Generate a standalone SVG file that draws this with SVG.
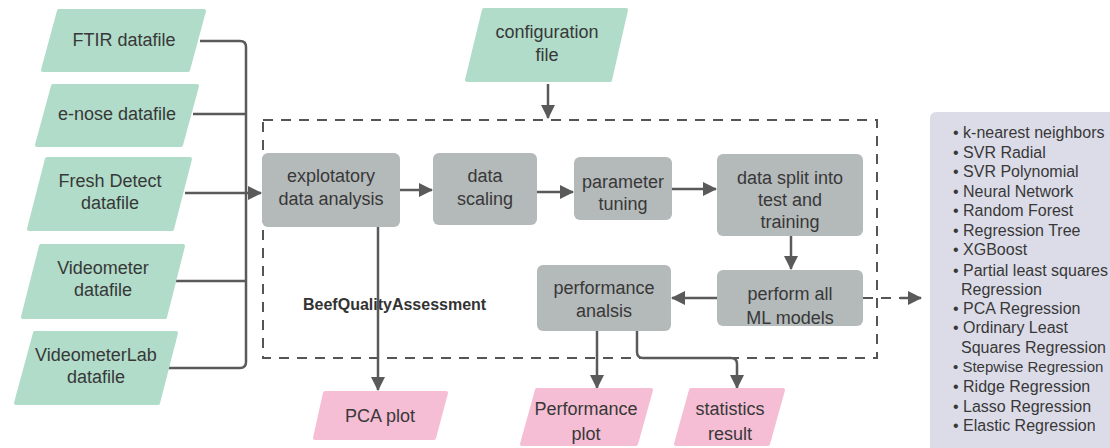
<svg xmlns="http://www.w3.org/2000/svg" width="1110" height="448" viewBox="0 0 1110 448">
<defs>
<style>
.in{fill:#b0dcc9;stroke:#b0dcc9;stroke-width:4;stroke-linejoin:round}
.out{fill:#f5bed4;stroke:#f5bed4;stroke-width:4;stroke-linejoin:round}
.proc{fill:#b4b9ba}
.t{font-family:"Liberation Sans",Arial,sans-serif;font-size:18px;fill:#383838;text-anchor:middle}
.li{font-family:"Liberation Sans",Arial,sans-serif;font-size:16px;fill:#383838}
.c{fill:none;stroke:#5a5a5a;stroke-width:2.5}
.d{fill:none;stroke:#555;stroke-width:2;stroke-dasharray:10 8}
</style>
<marker id="ah" viewBox="0 0 14 14" refX="13" refY="7" markerWidth="14" markerHeight="14" markerUnits="userSpaceOnUse" orient="auto">
<path d="M0,0 L14,7 L0,14 Z" fill="#5a5a5a"/>
</marker>
</defs>
<rect width="1110" height="448" fill="#fff"/>

<rect id="boundary" x="263" y="120" width="614" height="238" class="d"/>
<text x="303" y="310" font-family="Liberation Sans,Arial,sans-serif" font-size="16" font-weight="bold" fill="#333">BeefQualityAssessment</text>

<g id="connectors">
<path class="c" d="M200,41 H240 Q246,41 246,47 V362 Q246,368 240,368 H168"/>
<path class="c" d="M193,114 H246"/>
<path class="c" d="M175,281 H246"/>
<path class="c" d="M185,193 H261" marker-end="url(#ah)"/>
<path class="c" d="M548,84 V118" marker-end="url(#ah)"/>
<path class="c" d="M400,190 H432" marker-end="url(#ah)"/>
<path class="c" d="M537,192 H573" marker-end="url(#ah)"/>
<path class="c" d="M672,189 H716" marker-end="url(#ah)"/>
<path class="c" d="M791,236 V269" marker-end="url(#ah)"/>
<path class="c" d="M717,298 H672" marker-end="url(#ah)"/>
<path class="d" d="M863,298 H906"/>
<path class="c" d="M900,298 H921" marker-end="url(#ah)"/>
<path class="c" d="M378,227 V390" marker-end="url(#ah)"/>
<path class="c" d="M597,331 V388" marker-end="url(#ah)"/>
<path class="c" d="M637,331 V352 Q637,358 643,358 H731 Q737,358 737,364 V388" marker-end="url(#ah)"/>
</g>

<g id="ftir"><polygon class="in" points="59,11 204,11 188,70 43,70"/><text class="t" x="124" y="46">FTIR datafile</text></g>
<g id="enose"><polygon class="in" points="53,86 197,86 181,145 37,145"/><text class="t" x="117" y="120">e-nose datafile</text></g>
<g id="freshdetect"><polygon class="in" points="47,159 190,159 172,229 29,229"/><text class="t" x="110" y="187">Fresh Detect</text><text class="t" x="110" y="209">datafile</text></g>
<g id="videometer"><polygon class="in" points="41,246 183,246 165,317 23,317"/><text class="t" x="103" y="274">Videometer</text><text class="t" x="103" y="296">datafile</text></g>
<g id="videometerlab"><polygon class="in" points="35,333 176,333 158,403 16,403"/><text class="t" x="96" y="361">VideometerLab</text><text class="t" x="96" y="383">datafile</text></g>
<g id="config"><polygon class="in" points="484,10 626,10 610,80 467,80"/><text class="t" x="547" y="38">configuration</text><text class="t" x="547" y="61">file</text></g>

<g id="eda"><rect class="proc" x="262" y="153" width="138" height="74" rx="6"/><text class="t" x="331" y="182">explotatory</text><text class="t" x="331" y="205">data analysis</text></g>
<g id="scaling"><rect class="proc" x="433" y="153" width="104" height="72" rx="6"/><text class="t" x="485" y="182">data</text><text class="t" x="485" y="205">scaling</text></g>
<g id="tuning"><rect class="proc" x="574" y="157" width="98" height="63" rx="6"/><text class="t" x="623" y="188">parameter</text><text class="t" x="623" y="210">tuning</text></g>
<g id="split"><rect class="proc" x="717" y="154" width="146" height="82" rx="6"/><text class="t" x="790" y="184">data split into</text><text class="t" x="790" y="206">test and</text><text class="t" x="790" y="228">training</text></g>
<g id="models"><rect class="proc" x="717" y="270" width="146" height="56" rx="6"/><text class="t" x="790" y="300">perform all</text><text class="t" x="790" y="324">ML models</text></g>
<g id="perfanalysis"><rect class="proc" x="537" y="265" width="134" height="66" rx="6"/><text class="t" x="604" y="294">performance</text><text class="t" x="604" y="317">analsis</text></g>

<g id="pcaplot"><polygon class="out" points="325,393 446,393 434,438 315,438"/><text class="t" x="380" y="422">PCA plot</text></g>
<g id="perfplot"><polygon class="out" points="537,390 651,390 636,444 522,444"/><text class="t" x="586" y="415">Performance</text><text class="t" x="586" y="440">plot</text></g>
<g id="stats"><polygon class="out" points="691,390 783,390 768,444 676,444"/><text class="t" x="730" y="415">statistics</text><text class="t" x="730" y="440">result</text></g>

<g id="modellist">
<rect x="930" y="112" width="200" height="345" rx="6" fill="#dcdce8"/>
<text class="li" x="953" y="138">• k-nearest neighbors</text>
<text class="li" x="953" y="158">• SVR Radial</text>
<text class="li" x="953" y="177">• SVR Polynomial</text>
<text class="li" x="953" y="197">• Neural Network</text>
<text class="li" x="953" y="216">• Random Forest</text>
<text class="li" x="953" y="236">• Regression Tree</text>
<text class="li" x="953" y="255">• XGBoost</text>
<text class="li" x="953" y="276">• Partial least squares</text>
<text class="li" x="961" y="295">Regression</text>
<text class="li" x="953" y="314">• PCA Regression</text>
<text class="li" x="953" y="333">• Ordinary Least</text>
<text class="li" x="961" y="353">Squares Regression</text>
<text class="li" x="953" y="372" style="font-size:15px">• Stepwise Regression</text>
<text class="li" x="953" y="392">• Ridge Regression</text>
<text class="li" x="953" y="412">• Lasso Regression</text>
<text class="li" x="953" y="431">• Elastic Regression</text>
</g>
</svg>
